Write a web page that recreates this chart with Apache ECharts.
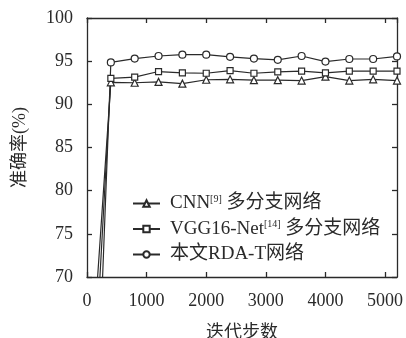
<!DOCTYPE html>
<html>
<head>
<meta charset="utf-8">
<script src="https://cdn.jsdelivr.net/npm/echarts@6/dist/echarts.min.js"></script>
<style>
html,body{margin:0;padding:0;background:#fff;}
#chart{width:406px;height:338px;}
</style>
</head>
<body>
<div id="chart"></div>
<script>
var steps = [0, 400, 800, 1200, 1600, 2000, 2400, 2800, 3200, 3600, 4000, 4400, 4800, 5200];
var cnnAcc = [51.9, 92.55, 92.5, 92.6, 92.4, 92.85, 92.9, 92.8, 92.8, 92.75, 93.2, 92.75, 92.9, 92.75];
var vggAcc = [42.8, 93.0, 93.15, 93.8, 93.65, 93.6, 93.9, 93.6, 93.75, 93.85, 93.65, 93.85, 93.85, 93.85];
var rdaAcc = [23.0, 94.85, 95.3, 95.6, 95.75, 95.75, 95.5, 95.3, 95.15, 95.6, 94.95, 95.25, 95.25, 95.55];
var seriesNames = ['CNN[9] 多分支网络', 'VGG16-Net[14] 多分支网络', '本文RDA-T网络'];
var xTicks = [0, 1000, 2000, 3000, 4000, 5000];
var yTicks = [70, 75, 80, 85, 90, 95, 100];

var FONT = "'Liberation Serif','Noto Sans CJK SC',serif";
var INK = '#2a2a2a';

function pairs(vals) {
  return steps.map(function (s, i) { return [s, vals[i]]; });
}

var chart = echarts.init(document.getElementById('chart'), null, {renderer: 'canvas'});

function axisCommon() {
  return {
    axisLine: {show: true, onZero: false, lineStyle: {color: INK, width: 1.3}},
    axisTick: {show: true, inside: true, length: 5, lineStyle: {color: INK, width: 1.3}},
    splitLine: {show: false}
  };
}

function mkSeries(name, vals, symbol, size) {
  return {
    name: name,
    type: 'line',
    data: pairs(vals),
    symbol: symbol,
    symbolSize: size,
    showAllSymbol: true,
    clip: true,
    lineStyle: {color: INK, width: 1.2},
    itemStyle: {color: '#fff', borderColor: INK, borderWidth: 1.2},
    emphasis: {disabled: true},
    z: 3
  };
}

chart.setOption({
  animation: false,
  backgroundColor: '#fff',
  grid: {left: 87, right: 9, top: 18, bottom: 61, show: false, containLabel: false, outerBoundsMode: 'none'},
  legend: {
    orient: 'vertical',
    left: 132,
    top: 194,
    padding: 0,
    itemWidth: 27,
    itemHeight: 8,
    itemGap: 6.5,
    data: seriesNames,
    textStyle: {
      fontFamily: FONT, fontSize: 19, color: INK, lineHeight: 18.5, padding: [0, 0, 0, 5],
      rich: {
        a: {fontFamily: FONT, fontSize: 19, color: INK},
        s: {fontFamily: FONT, fontSize: 10, color: INK, verticalAlign: 'top', padding: [0, 0, 8, 0]}
      }
    },
    formatter: function (name) {
      var m = name.match(/^(.*?)\[(\d+)\](.*)$/);
      if (m) {
        return '{a|' + m[1] + '}{s|[' + m[2] + ']}{a|' + m[3] + '}';
      }
      return '{a|' + name + '}';
    }
  },
  xAxis: [
    Object.assign(axisCommon(), {
      type: 'value', min: 0, max: 5200, interval: 1000, position: 'bottom',
      name: '迭代步数', nameLocation: 'middle', nameGap: 47,
      nameTextStyle: {fontFamily: FONT, fontSize: 18, color: INK},
      axisLabel: {show: true, fontFamily: FONT, fontSize: 18, color: INK, margin: 15, showMaxLabel: false,
        formatter: function (v) { return xTicks.indexOf(v) >= 0 ? String(v) : ''; }}
    }),
    Object.assign(axisCommon(), {
      type: 'value', min: 0, max: 5200, interval: 1000, position: 'top',
      axisLabel: {show: false}
    })
  ],
  yAxis: [
    Object.assign(axisCommon(), {
      type: 'value', min: 70, max: 100, interval: 5, position: 'left',
      name: '准确率(%)', nameLocation: 'middle', nameGap: 58,
      nameTextStyle: {fontFamily: FONT, fontSize: 18, color: INK},
      axisLabel: {show: true, fontFamily: FONT, fontSize: 18, color: INK, margin: 14,
        formatter: function (v) { return yTicks.indexOf(v) >= 0 ? String(v) : ''; }}
    }),
    Object.assign(axisCommon(), {
      type: 'value', min: 70, max: 100, interval: 5, position: 'right',
      axisLabel: {show: false}
    })
  ],
  series: [
    mkSeries(seriesNames[0], cnnAcc, 'triangle', 7),
    mkSeries(seriesNames[1], vggAcc, 'rect', 6),
    mkSeries(seriesNames[2], rdaAcc, 'circle', 7)
  ]
});
</script>
</body>
</html>
